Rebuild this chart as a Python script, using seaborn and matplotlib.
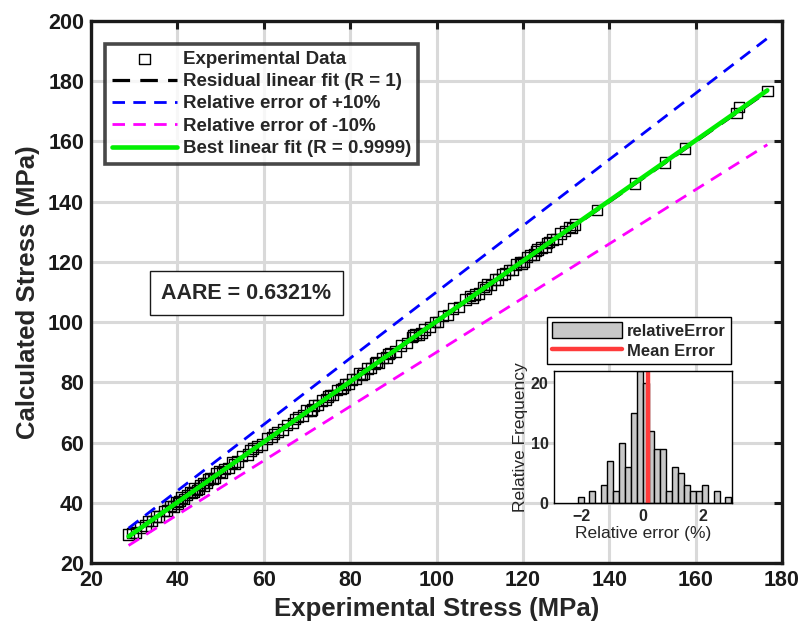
import numpy as np
import pandas as pd
import matplotlib
matplotlib.use("Agg")
import matplotlib.pyplot as plt
import seaborn as sns
from matplotlib.lines import Line2D
from matplotlib.patches import Patch

# Measured vs. model-predicted flow stress (MPa)
experimental = [
    28.7, 29.6, 30.4, 31.5, 32.6, 33.2, 34.1, 35.0, 35.8, 36.9, 37.6, 38.4,
    39.1, 39.8, 40.5, 41.0, 41.6, 42.2, 42.9, 43.4, 44.0, 44.6, 45.3, 45.9,
    46.7, 47.5, 48.2, 49.0, 49.8, 50.9, 51.8, 52.7, 53.9, 55.0, 56.3, 57.5,
    58.4, 59.6, 60.8, 61.9, 63.2, 64.5, 65.4, 66.8, 68.0, 69.1, 69.9, 70.8,
    71.7, 72.6, 73.5, 74.4, 75.3, 76.1, 77.0, 77.9, 78.8, 79.6, 80.5, 81.4,
    82.2, 83.1, 84.0, 84.8, 85.7, 86.6, 87.5, 88.4, 89.3, 90.5, 91.8, 93.2,
    94.3, 95.1, 96.0, 97.2, 98.5, 99.6, 100.4, 101.5, 102.6, 103.8, 105.2, 106.7,
    107.8, 108.9, 109.8, 110.9, 111.7, 112.6, 113.5, 114.3, 115.1, 115.9, 116.8, 117.6,
    118.4, 119.3, 120.1, 120.9, 121.8, 122.6, 123.4, 124.3, 125.2, 126.0, 126.9, 127.8,
    128.7, 129.7, 130.8, 132.0, 137.1, 145.9, 152.9, 157.5, 169.5, 170.0, 176.6,
    40.2, 43.8, 45.0, 46.2, 47.1, 48.6, 50.3, 53.2, 56.9, 62.4, 67.3, 71.2,
    74.9, 78.3, 82.7, 86.1, 88.9, 94.6, 96.5, 108.3, 111.3, 119.7, 123.0, 125.6,
    131.4,
]
calculated = [
    29.5, 30.0, 30.1, 31.8, 32.4, 33.9, 34.0, 35.5, 35.5, 37.3, 37.4, 38.9,
    38.8, 40.3, 40.6, 41.8, 41.2, 42.5, 43.6, 43.2, 44.8, 44.3, 45.9, 46.5,
    46.6, 48.3, 48.0, 49.8, 50.4, 51.2, 51.6, 53.4, 53.7, 55.5, 56.1, 58.0,
    58.7, 59.4, 61.3, 61.8, 63.6, 64.3, 65.9, 66.6, 68.5, 69.0, 70.6, 70.5,
    72.3, 72.4, 74.0, 74.3, 75.9, 75.8, 77.5, 77.8, 79.3, 79.4, 80.9, 81.2,
    82.9, 83.0, 84.6, 84.7, 86.3, 86.4, 88.0, 88.2, 89.8, 90.3, 92.2, 93.0,
    95.1, 95.9, 95.8, 97.5, 98.3, 100.0, 100.1, 102.0, 102.4, 104.5, 105.0, 107.5,
    108.6, 109.2, 109.5, 111.6, 112.5, 112.4, 114.2, 114.1, 115.8, 116.1, 117.3, 117.4,
    119.1, 119.9, 120.0, 121.7, 122.3, 122.5, 124.1, 124.8, 125.0, 126.6, 127.5, 127.6,
    129.4, 130.2, 131.5, 132.4, 137.2, 146.0, 153.0, 157.7, 169.4, 171.4, 176.8,
    39.8, 43.5, 44.7, 45.8, 47.7, 48.3, 50.1, 52.9, 57.4, 62.9, 67.9, 71.0,
    75.3, 78.1, 82.4, 86.8, 89.5, 95.6, 96.3, 108.1, 111.1, 119.5, 123.6, 126.2,
    131.2,
]

# Relative error histogram (%): bin counts
error_bin_start = -2.14
error_bin_width = 0.195
error_counts = [1, 0, 2, 0, 3, 7, 2, 10, 6, 15, 22, 20, 12, 9, 9, 2, 6, 5, 3, 2,
                2, 3, 0, 2, 0, 1]
mean_error = 0.175
aare_text = "AARE = 0.6321%"

legend_labels = ["Experimental Data", "Residual linear fit (R = 1)",
                 "Relative error of +10%", "Relative error of -10%",
                 "Best linear fit (R = 0.9999)"]

sns.set_theme(style="white")
plt.rcParams["font.family"] = ["Liberation Sans", "DejaVu Sans"]
plt.rcParams["font.weight"] = "bold"
plt.rcParams["axes.labelweight"] = "bold"

fig = plt.figure(figsize=(8.01, 6.30), dpi=100)
ax = fig.add_axes([0.1136, 0.1063, 0.8627, 0.8603])

exp_arr = np.array(experimental)
calc_arr = np.array(calculated)
xline = np.array([exp_arr.min(), exp_arr.max()])
slope, intercept = np.polyfit(exp_arr, calc_arr, 1)

sns.scatterplot(x=exp_arr, y=calc_arr, ax=ax, marker="s", s=56,
                linewidth=1.0, zorder=3, legend=False)
pts = ax.collections[-1]
pts.set_facecolor("none")
pts.set_edgecolor("black")

line_kw = dict(ax=ax, sort=False, errorbar=None, legend=False)
sns.lineplot(x=xline, y=xline, color="black", lw=2.3,
             linestyle=(0, (5.5, 3.2)), zorder=4, **line_kw)
sns.lineplot(x=xline, y=1.1 * xline, color="#0000ff", lw=2.0,
             linestyle=(0, (4.5, 3.0)), zorder=4, **line_kw)
sns.lineplot(x=xline, y=0.9 * xline, color="#ff00ff", lw=2.0,
             linestyle=(0, (4.5, 3.0)), zorder=4, **line_kw)
sns.lineplot(x=xline, y=slope * xline + intercept, color="#00ee00", lw=3.3,
             zorder=5, **line_kw)

ax.set_xlim(20, 180)
ax.set_ylim(20, 200)
ax.set_xticks(np.arange(20, 181, 20))
ax.set_yticks(np.arange(20, 201, 20))
ax.grid(True, color="#d9d9d9", lw=2.2)
ax.set_axisbelow(True)
ax.tick_params(direction="in", length=6, width=2.2, top=True, right=True,
               labelsize=15.5, pad=5, colors="#1a1a1a")
for sp in ax.spines.values():
    sp.set_linewidth(2.4)
    sp.set_color("#1a1a1a")
ax.set_xlabel("Experimental Stress (MPa)", fontsize=18.5, labelpad=4)
ax.set_ylabel("Calculated Stress (MPa)", fontsize=18.5, labelpad=6)

handles = [pts] + ax.lines[:4]
leg = ax.legend(handles, legend_labels, loc="upper left",
                bbox_to_anchor=(0.0203, 0.9576), borderaxespad=0,
                fontsize=13.5, handlelength=3.5, handletextpad=0.3,
                labelspacing=0.28, borderpad=0.35, frameon=True,
                fancybox=False, edgecolor="#1a1a1a")
leg.get_frame().set_linewidth(2.6)
leg.set_zorder(10)

ax.text(0.225, 0.498, aare_text, transform=ax.transAxes, fontsize=15.5,
        ha="center", va="center", zorder=10,
        bbox=dict(boxstyle="square,pad=0.55", fc="white", ec="#1a1a1a",
                  lw=1.0))

# Inset: distribution of relative error
axin = fig.add_axes([0.6916, 0.2016, 0.2222, 0.2095])
n_bins = len(error_counts)
bin_lo = error_bin_start
bin_hi = error_bin_start + error_bin_width * n_bins
hist_df = pd.DataFrame({
    "err": bin_lo + error_bin_width * (np.arange(n_bins) + 0.5),
    "count": error_counts,
})
sns.histplot(data=hist_df, x="err", weights="count",
             binwidth=error_bin_width, binrange=(bin_lo, bin_hi), ax=axin,
             color="#c8c8c8", edgecolor="black", linewidth=1.0, alpha=1.0)
axin.axvline(mean_error, color="#ff3b3b", lw=3.2)
axin.set_xlim(-2.92, 2.95)
axin.set_ylim(0, 22)
axin.set_xticks([-2, 0, 2])
axin.set_yticks([0, 10, 20])
axin.tick_params(direction="in", length=3, width=1, labelsize=11.5, pad=4)
for sp in axin.spines.values():
    sp.set_linewidth(1.0)
    sp.set_color("black")
axin.set_xlabel("Relative error (%)", fontsize=12.5, fontweight="normal",
                labelpad=2)
axin.set_ylabel("Relative Frequency", fontsize=12.5, fontweight="normal",
                labelpad=2)

in_handles = [Patch(facecolor="#c8c8c8", edgecolor="black", lw=1.0),
              Line2D([], [], color="#ff3b3b", lw=3.2)]
fig.legend(in_handles, ["relativeError", "Mean Error"], loc="upper left",
           bbox_to_anchor=(547 / 801, 1 - 317 / 630),
           bbox_transform=fig.transFigure, borderaxespad=0, fontsize=12,
           handlelength=4.2, handleheight=1.1, handletextpad=0.3,
           labelspacing=0.2, borderpad=0.3, frameon=True, fancybox=False,
           edgecolor="black", framealpha=1)

fig.savefig("out.png", dpi=100)
